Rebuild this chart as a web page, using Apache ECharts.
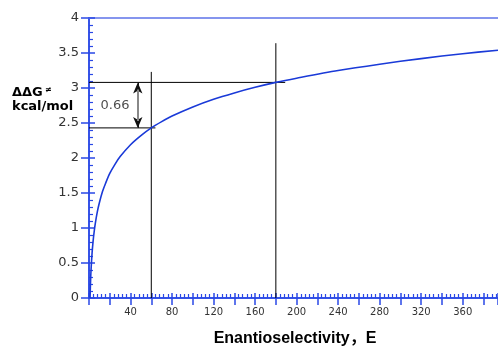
<!DOCTYPE html>
<html>
<head>
<meta charset="utf-8">
<script src="https://cdn.jsdelivr.net/npm/echarts@6/dist/echarts.min.js"></script>
<style>html,body{margin:0;padding:0;background:#fff}#c{width:498px;height:347px}</style>
</head>
<body>
<div id="c"></div>
<script>
// Curve: enantioselectivity E vs ΔΔG‡ (kcal/mol)
const curveE   = [1, 1.5, 2, 3, 4, 5, 6, 8, 10, 13, 16, 20, 25, 30, 40, 50, 60, 70, 80, 100, 120, 140, 160, 180, 200, 240, 280, 320, 360, 394];
const curveDG  = [0, 0.24, 0.41, 0.65, 0.82, 0.95, 1.06, 1.23, 1.36, 1.52, 1.64, 1.78, 1.91, 2.02, 2.19, 2.32, 2.43, 2.52, 2.60, 2.73, 2.84, 2.93, 3.01, 3.08, 3.14, 3.25, 3.34, 3.42, 3.49, 3.54];
// Guide lines
const guideE     = [60, 180];
const guideTopDG = [3.23, 3.64];
const levelDG    = [2.43, 3.08];
const levelEndE  = [64, 189];
const diffLabel  = '0.66';
const arrowE     = 47;
const labelPos   = [25, 2.755];
// Axes
const xMin = 0, xMax = 394, xStep = 20, xLabelStep = 40;
const yMin = 0, yMax = 4, yStep = 0.5;
const xTitle = 'Enantioselectivity，E';
const yTitle1 = 'ΔΔG', yTitleSup = '≠', yTitle2 = 'kcal/mol';

const AX = '#2a48e6';
const chart = echarts.init(document.getElementById('c'), null, {renderer: 'canvas'});

const guideSeries = [];
guideE.forEach((e, i) => {
  guideSeries.push({type: 'line', data: [[e, 0], [e, guideTopDG[i]]], symbol: 'none',
    lineStyle: {color: '#000', width: 1}, z: 3, silent: true});
});
levelDG.forEach((v, i) => {
  guideSeries.push({type: 'line', data: [[0, v], [levelEndE[i], v]], symbol: 'none',
    lineStyle: {color: '#000', width: 1}, z: 3, silent: true});
});

const baseX = {type: 'value', min: xMin, max: xMax, interval: xStep, splitLine: {show: false}};
const baseY = {type: 'value', min: yMin, max: yMax, interval: yStep, splitLine: {show: false}};

chart.setOption({
  animation: false,
  grid: {left: 89, right: 0, top: 18, bottom: 49, containLabel: false, outerBoundsMode: 'none'},
  xAxis: [
    Object.assign({}, baseX, {position: 'bottom',
      axisLine: {onZero: false, lineStyle: {color: AX, width: 1.5}},
      axisTick: {inside: true, length: 5, lineStyle: {color: AX, width: 1.5}},
      minorTick: {show: true, splitNumber: 5, length: 4, lineStyle: {color: AX, width: 1.2}},
      axisLabel: {show: false}}),
    Object.assign({}, baseX, {position: 'bottom',
      axisLine: {onZero: false, lineStyle: {color: AX, width: 1.5}},
      axisTick: {inside: false, length: 7, lineStyle: {color: AX, width: 1.5}},
      axisLabel: {margin: 9, color: '#333', fontFamily: 'DejaVu Sans', fontSize: 10,
        formatter: v => (v > 0 && v % xLabelStep === 0 && v < xMax) ? String(v) : ''}}),
    Object.assign({}, baseX, {position: 'top',
      axisLine: {onZero: false, lineStyle: {color: '#8595ee', width: 2}},
      axisTick: {show: false}, axisLabel: {show: false}})
  ],
  yAxis: [
    Object.assign({}, baseY, {position: 'left',
      axisLine: {onZero: false, lineStyle: {color: AX, width: 1.5}},
      axisTick: {inside: true, length: 6, lineStyle: {color: AX, width: 1.5}},
      minorTick: {show: true, splitNumber: 5, length: 4, lineStyle: {color: AX, width: 1.2}},
      axisLabel: {show: false}}),
    Object.assign({}, baseY, {position: 'left',
      axisLine: {onZero: false, lineStyle: {color: AX, width: 1.5}},
      axisTick: {inside: false, length: 8, lineStyle: {color: AX, width: 1.5}},
      axisLabel: {margin: 10, color: '#333', fontFamily: 'DejaVu Sans', fontSize: 13}})
  ],
  graphic: [
    {type: 'text', left: 12, top: 86, style: {text: yTitle1, font: 'bold 13px "DejaVu Sans"', fill: '#000'}},
    {type: 'text', left: 45, top: 86, style: {text: yTitleSup, font: 'bold 8px "DejaVu Sans"', fill: '#000'}},
    {type: 'text', left: 12, top: 100, style: {text: yTitle2, font: 'bold 13px "DejaVu Sans"', fill: '#000'}},
    {type: 'text', x: 295, y: 339, style: {text: xTitle, align: 'center', verticalAlign: 'middle',
      font: 'bold 16px "Liberation Sans", "Noto Sans CJK JP"', fill: '#000'}}
  ],
  series: [
    {type: 'line', data: curveE.map((e, i) => [e, curveDG[i]]), smooth: 0.3, symbol: 'none',
      lineStyle: {color: '#1a3ad8', width: 1.6}, z: 4, clip: true},
    ...guideSeries,
    {type: 'line', data: [], symbol: 'none', z: 5,
      markLine: {silent: true, symbol: ['arrow', 'arrow'], symbolSize: [7, 11],
        label: {show: false}, animation: false,
        lineStyle: {color: '#111', width: 1, type: 'solid'},
        data: [[{coord: [arrowE, levelDG[1]]}, {coord: [arrowE, levelDG[0]]}]]}},
    {type: 'line', data: [], symbol: 'none', z: 6,
      markLine: {silent: true, symbol: ['none', 'none'],
        label: {show: false}, animation: false,
        lineStyle: {color: '#888', width: 2, type: 'solid'},
        data: [[{coord: [arrowE, levelDG[1] - 0.1]}, {coord: [arrowE, levelDG[0] + 0.1]}]]}},
    {type: 'scatter', data: [labelPos], symbolSize: 0,
      label: {show: true, position: 'inside', formatter: diffLabel, color: '#222',
        fontFamily: 'DejaVu Sans', fontSize: 13}}
  ]
});
</script>
</body>
</html>
